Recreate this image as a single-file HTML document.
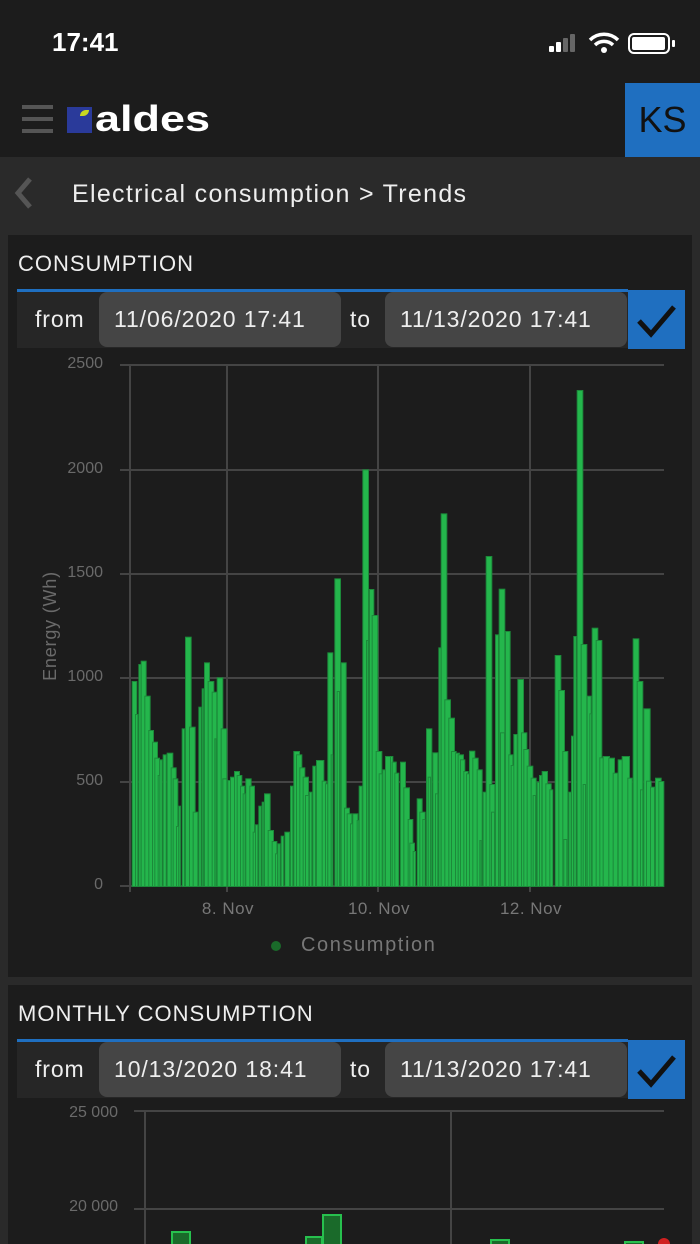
<!DOCTYPE html>
<html><head><meta charset="utf-8">
<style>
*{margin:0;padding:0;box-sizing:border-box}
body{width:700px;height:1244px;overflow:hidden;background:#2a2a2a;font-family:"Liberation Sans",sans-serif;color:#eee;position:relative}
.abs{position:absolute}
.d{letter-spacing:0.9px}
</style></head><body>
<div class="abs" style="left:0;top:0;width:700px;height:157px;background:#1c1c1c"></div>
<div class="abs" style="left:52px;top:27px;font-size:26px;font-weight:bold;color:#fff">17:41</div>
<div class="abs" style="left:549px;top:46px;width:5px;height:6px;background:#fff;border-radius:1px"></div>
<div class="abs" style="left:556px;top:42px;width:5px;height:10px;background:#fff;border-radius:1px"></div>
<div class="abs" style="left:563px;top:38px;width:5px;height:14px;background:#666;border-radius:1px"></div>
<div class="abs" style="left:570px;top:34px;width:5px;height:18px;background:#666;border-radius:1px"></div>
<svg class="abs" style="left:588px;top:32px" width="32" height="22" viewBox="0 0 32 22"><path d="M2 8 A20 20 0 0 1 30 8" stroke="#fff" stroke-width="3.5" fill="none"/><path d="M7 13 A13 13 0 0 1 25 13" stroke="#fff" stroke-width="3.5" fill="none"/><circle cx="16" cy="18" r="3" fill="#fff"/></svg>
<div class="abs" style="left:628px;top:33px;width:42px;height:21px;border:2px solid #fff;border-radius:6px;padding:2px"><div style="width:33px;height:13px;background:#fff;border-radius:2px"></div></div>
<div class="abs" style="left:672px;top:40px;width:3px;height:7px;background:#fff;border-radius:1px"></div>
<div class="abs" style="left:22px;top:105px;width:31px;height:4px;background:#555"></div>
<div class="abs" style="left:22px;top:117px;width:31px;height:4px;background:#555"></div>
<div class="abs" style="left:22px;top:129px;width:31px;height:4px;background:#555"></div>
<div class="abs" style="left:67px;top:107px;width:25px;height:26px;background:#2a3a9a"></div>
<div class="abs" style="left:80px;top:110px;width:9px;height:6px;background:#c8d820;border-radius:6px 0 6px 0"></div>
<div class="abs" style="left:95px;top:98px;font-size:36px;font-weight:bold;color:#fff;transform:scaleX(1.25);transform-origin:0 0">aldes</div>
<div class="abs" style="left:625px;top:83px;width:75px;height:74px;background:#1f6fc0;color:#111;font-size:36px;text-align:center;line-height:74px">KS</div>
<div class="abs" style="left:0;top:157px;width:700px;height:71px;background:#2a2a2a"></div>
<svg class="abs" style="left:10px;top:176px" width="24" height="34"><path d="M20 3 L8 17 L20 31" stroke="#555" stroke-width="5" fill="none"/></svg>
<div class="abs" style="left:72px;top:180px;font-size:25px;color:#eee;letter-spacing:1.3px">Electrical consumption &gt; Trends</div>
<div class="abs" style="left:8px;top:235px;width:684px;height:742px;background:#1c1c1c"></div>
<div class="abs" style="left:18px;top:251px;font-size:22px;color:#eee;letter-spacing:1px">CONSUMPTION</div>
<div class="abs" style="left:17px;top:289px;width:611px;height:3px;background:#1f6fc0"></div>
<div class="abs" style="left:17px;top:292px;width:611px;height:56px;background:#262626"></div>
<div class="abs d" style="left:35px;top:306px;font-size:23px">from</div>
<div class="abs d" style="left:99px;top:292px;width:242px;height:55px;background:#454545;border-radius:8px;font-size:23px;padding:14px 0 0 15px">11/06/2020 17:41</div>
<div class="abs d" style="left:350px;top:306px;font-size:23px">to</div>
<div class="abs d" style="left:385px;top:292px;width:242px;height:55px;background:#454545;border-radius:8px;font-size:23px;padding:14px 0 0 15px">11/13/2020 17:41</div>
<div class="abs" style="left:628px;top:290px;width:57px;height:59px;background:#1f6fc0"></div>
<svg class="abs" style="left:628px;top:290px" width="57" height="59"><path d="M11 31 L23 44 L46 17" stroke="#111" stroke-width="5" fill="none"/></svg>
<svg class="abs" style="left:0;top:0" width="700" height="1244">
<g font-family="Liberation Sans" font-size="16" fill="#6a6a6a" text-anchor="end">
<text x="103" y="368">2500</text><text x="103" y="473">2000</text><text x="103" y="577">1500</text><text x="103" y="681">1000</text><text x="103" y="785">500</text><text x="103" y="889">0</text>
</g>
<text transform="translate(56,626) rotate(-90)" font-family="Liberation Sans" font-size="18" fill="#6a6a6a" text-anchor="middle" letter-spacing="0.8">Energy (Wh)</text>
<g font-family="Liberation Sans" font-size="17" fill="#777" text-anchor="middle" letter-spacing="0.5">
<text x="228" y="914">8. Nov</text><text x="379" y="914">10. Nov</text><text x="531" y="914">12. Nov</text>
</g>
<circle cx="276" cy="946" r="5" fill="#1a6a2a"/>
<text x="301" y="951" font-family="Liberation Sans" font-size="20" fill="#777" letter-spacing="1.6">Consumption</text>
<g id="grid" stroke="#444" stroke-width="2"></g>
<g id="bars"></g>
</svg>
<div class="abs" style="left:8px;top:985px;width:684px;height:259px;background:#1c1c1c"></div>
<div class="abs" style="left:18px;top:1001px;font-size:22px;color:#eee;letter-spacing:1px">MONTHLY CONSUMPTION</div>
<div class="abs" style="left:17px;top:1039px;width:611px;height:3px;background:#1f6fc0"></div>
<div class="abs" style="left:17px;top:1042px;width:611px;height:56px;background:#262626"></div>
<div class="abs d" style="left:35px;top:1056px;font-size:23px">from</div>
<div class="abs d" style="left:99px;top:1042px;width:242px;height:55px;background:#454545;border-radius:8px;font-size:23px;padding:14px 0 0 15px">10/13/2020 18:41</div>
<div class="abs d" style="left:350px;top:1056px;font-size:23px">to</div>
<div class="abs d" style="left:385px;top:1042px;width:242px;height:55px;background:#454545;border-radius:8px;font-size:23px;padding:14px 0 0 15px">11/13/2020 17:41</div>
<div class="abs" style="left:628px;top:1040px;width:57px;height:59px;background:#1f6fc0"></div>
<svg class="abs" style="left:628px;top:1040px" width="57" height="59"><path d="M11 31 L23 44 L46 17" stroke="#111" stroke-width="5" fill="none"/></svg>
<svg class="abs" style="left:0;top:0" width="700" height="1244">
<g font-family="Liberation Sans" font-size="16" fill="#6a6a6a" text-anchor="end"><text x="118" y="1117">25 000</text><text x="118" y="1211">20 000</text></g>
<g stroke="#444" stroke-width="2"><line x1="134" y1="1111" x2="664" y2="1111"/><line x1="134" y1="1209" x2="664" y2="1209"/><line x1="145" y1="1111" x2="145" y2="1244"/><line x1="451" y1="1111" x2="451" y2="1244"/></g>
<g fill="#1a6a2a" stroke="#27c04e" stroke-width="2">
<rect x="172" y="1232" width="18" height="20"/><rect x="306" y="1237" width="16" height="20"/><rect x="323" y="1215" width="18" height="40"/><rect x="491" y="1240" width="18" height="20"/><rect x="625" y="1242" width="18" height="20"/></g>
<circle cx="664" cy="1244" r="6" fill="#d02020"/>
</svg>
<script>
var ns="http://www.w3.org/2000/svg";
var g=document.getElementById('grid');
function ln(a,b,c,d){var l=document.createElementNS(ns,'line');l.setAttribute('x1',a);l.setAttribute('y1',b);l.setAttribute('x2',c);l.setAttribute('y2',d);g.appendChild(l);}
[365,470,574,678,782].forEach(function(y){ln(120,y,664,y)});
[130,227,378,530].forEach(function(x){ln(x,365,x,892)});
ln(120,886,664,886);
var A=[[35,52,963],[45,55,1062],[55,65,912],[62,80,902],[73,92,1007],[85,102,1110],[96,114,1145],[103,120,1193],[113,125,1245],[118,128,1198],[128,140,1183],[140,160,1178],[152,170,1222],[158,175,1255],[168,178,1398],[175,183,1337],[185,195,1105],[195,215,830],[207,227,1100],[218,235,1355],[235,245,1040],[245,252,985],[252,270,907],[263,283,963],[275,292,995],[283,290,1135],[290,310,952],[302,322,1105],[307,322,1255],[322,335,1260],[330,345,1250],[342,360,1233],[350,367,1245],[360,375,1277],[368,377,1300],[376,395,1255],[388,405,1277],[398,408,1415],[405,415,1393],[415,425,1337],[425,433,1325],[432,452,1300],[443,462,1410],[455,472,1443],[465,474,1480],[472,482,1450],[482,492,1427],[493,510,1415],[510,520,1277],[520,540,1173],[528,547,1183],[538,556,1222],[548,567,1250],[555,568,1305],[567,577,1295],[577,588,1217],[588,613,1200],[605,620,1262],[615,625,1270],[622,640,877],[632,640,1183],[643,663,655],[650,660,993],[662,680,907],[672,690,1343],[680,697,1360],[690,700,1390],[697,715,1360],[710,718,1380],[716,728,1277],[727,747,328],[738,746,840],[747,763,687],[755,775,765],[767,787,1173],[776,788,1240],[787,797,1228],[795,818,1188],[810,830,1205]];
var B=[[0,10,1188],[5,20,1205],[13,28,1238],[30,48,1205],[40,60,1282],[53,70,1377],[58,75,1448],[68,78,1473],[80,98,1315],[88,107,1355],[97,107,1377],[108,127,1105],[113,123,1250],[127,145,1177],[135,145,1300],[145,155,862],[152,172,460],[163,183,1018],[175,195,1073],[183,200,1173],[195,210,1178],[203,222,1183],[210,226,1198],[220,236,1233],[228,240,1240],[237,256,1172],[247,266,1193],[260,278,1228],[268,275,1440],[278,290,1295],[287,307,588],[298,316,1272],[303,315,1355],[315,327,823],[326,346,686],[330,345,1117],[345,362,813],[355,370,1183],[362,375,1215],[370,383,1122],[382,402,957],[393,412,1117],[400,418,1167],[410,430,1217],[422,440,1253],[428,438,1305],[440,450,1265],[447,457,1245],[455,474,1233],[466,485,1270],[478,490,1288],[494,514,885],[505,525,990],[517,535,1173],[520,532,1437],[535,545,1295],[543,552,1127],[550,560,828],[560,580,90],[572,592,852],[578,588,1272],[590,605,1007],[598,606,1060],[605,625,803],[617,637,840],[628,648,1192],[638,660,1188],[655,675,1193],[668,685,1238],[683,700,1198],[695,720,1188],[712,728,1253],[728,748,835],[740,760,963],[750,760,1288],[760,782,1045],[768,785,1262],[780,795,1280],[795,815,1253],[805,823,1263]];
var bg=document.getElementById('bars');
function add(arr,base){arr.forEach(function(b){var x1=base+b[0]/3,x2=base+b[1]/3,y=360+b[2]/3;var r=document.createElementNS(ns,'rect');r.setAttribute('x',x1+0.5);r.setAttribute('y',y+0.5);r.setAttribute('width',Math.max(x2-x1-1,1));r.setAttribute('height',886-y);r.setAttribute('fill','#24b64c');r.setAttribute('stroke','#1c8a3a');r.setAttribute('stroke-width','1');bg.appendChild(r);});}
add(A,120);add(B,390);
</script>
</body></html>
